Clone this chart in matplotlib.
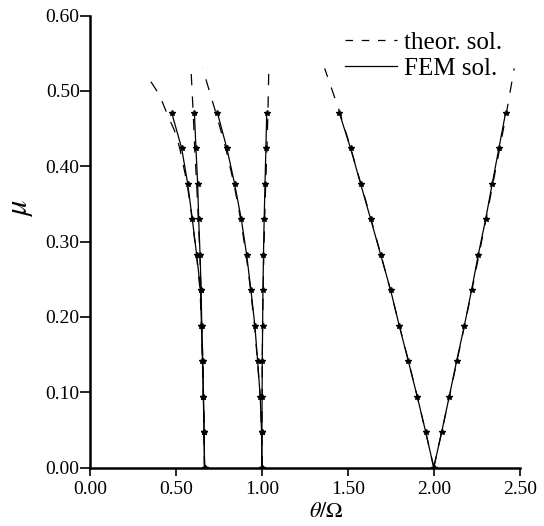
import matplotlib
matplotlib.use("Agg")
import matplotlib.pyplot as plt

plt.rcParams['font.family'] = ['Liberation Serif', 'DejaVu Serif']
plt.rcParams['mathtext.fontset'] = 'stix'

# FEM solution: load parameter mu at each computed point
mu_fem = [0.0, 0.0471, 0.0942, 0.1413, 0.1884, 0.2355, 0.2826, 0.3297, 0.3768, 0.4239, 0.4710]

# FEM boundaries (theta/Omega) for each instability region
fem_23_left = [0.666, 0.663, 0.659, 0.654, 0.648, 0.643, 0.620, 0.595, 0.568, 0.533, 0.475]
fem_23_right = [0.666, 0.664, 0.660, 0.656, 0.650, 0.646, 0.640, 0.632, 0.626, 0.616, 0.607]
fem_1_left = [1.000, 0.998, 0.990, 0.975, 0.959, 0.936, 0.911, 0.880, 0.841, 0.796, 0.741]
fem_1_right = [1.000, 1.000, 1.001, 1.002, 1.004, 1.006, 1.009, 1.013, 1.018, 1.023, 1.028]
fem_2_left = [2.000, 1.953, 1.904, 1.852, 1.799, 1.749, 1.691, 1.633, 1.574, 1.516, 1.450]
fem_2_right = [2.000, 2.046, 2.090, 2.133, 2.178, 2.220, 2.259, 2.302, 2.340, 2.379, 2.418]

# Theoretical solution
mu_th = [0.0, 0.0471, 0.0942, 0.1413, 0.1884, 0.2355, 0.2826, 0.3297, 0.3768, 0.4239, 0.4710, 0.5300]
th_1_left = [1.000, 0.998, 0.990, 0.974, 0.957, 0.934, 0.908, 0.876, 0.837, 0.790, 0.732, 0.655]
th_1_right = [1.000, 1.000, 1.001, 1.002, 1.004, 1.007, 1.011, 1.016, 1.022, 1.029, 1.035, 1.040]
th_2_left = [2.000, 1.953, 1.904, 1.853, 1.800, 1.748, 1.692, 1.635, 1.576, 1.517, 1.454, 1.365]
th_2_right = [2.000, 2.046, 2.091, 2.135, 2.179, 2.222, 2.263, 2.304, 2.344, 2.384, 2.423, 2.468]
th_23_right = [0.666, 0.664, 0.660, 0.656, 0.650, 0.645, 0.639, 0.630, 0.620, 0.609, 0.600, 0.587]

mu_th_23_left = [0.0, 0.0471, 0.0942, 0.1413, 0.1884, 0.2355, 0.2826, 0.3297, 0.3768, 0.4239, 0.4470, 0.4660, 0.4950, 0.5200]
th_23_left = [0.666, 0.663, 0.659, 0.654, 0.648, 0.640, 0.619, 0.594, 0.565, 0.522, 0.492, 0.455, 0.403, 0.332]

legend_labels = ["theor. sol.", "FEM sol."]
x_ticks = [0.0, 0.5, 1.0, 1.5, 2.0, 2.5]
y_ticks = [0.0, 0.1, 0.2, 0.3, 0.4, 0.5, 0.6]

fig = plt.figure(figsize=(5.44, 5.26), dpi=100)
ax = fig.add_axes([0.1656, 0.1112, 0.7897, 0.859])

dash_kw = dict(color='black', lw=0.9, dashes=(9, 9))
fem_kw = dict(color='black', lw=0.9, marker='*', ms=4, mec='black', mfc='black')

for xs, ys in [(th_23_left, mu_th_23_left), (th_23_right, mu_th), (th_1_left, mu_th),
               (th_1_right, mu_th), (th_2_left, mu_th), (th_2_right, mu_th)]:
    ax.plot(xs, ys, **dash_kw)

for xs in [fem_23_left, fem_23_right, fem_1_left, fem_1_right, fem_2_left, fem_2_right]:
    ax.plot(xs, mu_fem, **fem_kw)

# legend proxies
h1, = ax.plot([], [], color='black', lw=0.9, dashes=(6, 7))
h2, = ax.plot([], [], color='black', lw=0.9)
ax.legend([h1, h2], legend_labels, loc='upper right', bbox_to_anchor=(0.958, 0.965),
          frameon=False, fontsize=18, handlelength=2.1, handletextpad=0.25,
          labelspacing=0.15, borderaxespad=0.0, borderpad=0.0)

ax.set_xlim(0, 2.5)
ax.set_ylim(0, 0.6)
ax.set_xticks(x_ticks)
ax.set_yticks(y_ticks)
ax.set_xticklabels([f"{v:.2f}" for v in x_ticks])
ax.set_yticklabels([f"{v:.2f}" for v in y_ticks])
for s in ['top', 'right']:
    ax.spines[s].set_visible(False)
for s in ['left', 'bottom']:
    ax.spines[s].set_linewidth(1.8)
ax.tick_params(axis='both', labelsize=14, width=1.2)
ax.tick_params(axis='y', length=7, pad=0.5, direction='out')
ax.tick_params(axis='x', length=5.5, pad=4, direction='out')

ax.set_xlabel(r'$\theta/\Omega$', fontsize=16)
ax.xaxis.label.set_va('center')
ax.xaxis.set_label_coords(0.549, -0.099)
ax.set_ylabel(r'$\mu$', fontsize=22)
ax.yaxis.label.set_va('center')
ax.yaxis.set_label_coords(-0.163, 0.575)

fig.savefig('out.png', dpi=100)
